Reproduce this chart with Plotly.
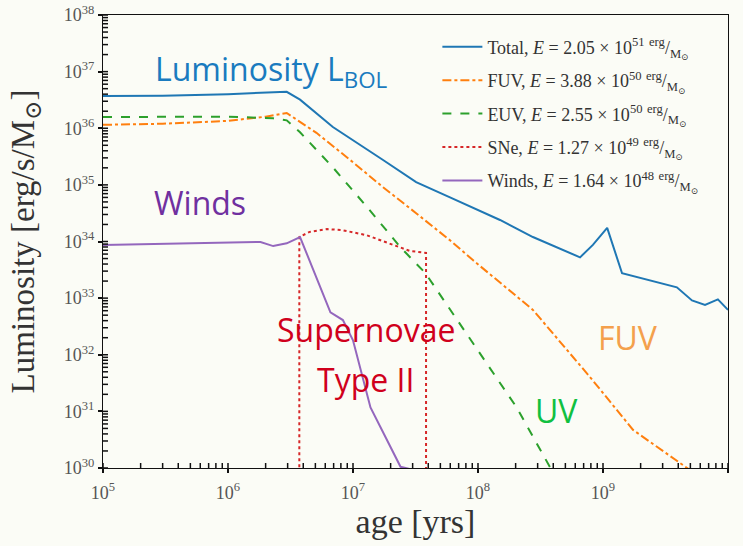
import math
import plotly.graph_objects as go

# ---------------- data ----------------
total_age = [1e5, 3e5, 1e6, 2.95e6, 3.77e6, 6.9e6, 1.74e7, 3.2e7, 5.97e7, 1.5e8, 2.75e8,
             5.15e8, 6.55e8, 8.3e8, 1.08e9, 1.42e9, 3.9e9, 5.15e9, 6.55e9, 8.3e9, 1e10]
total_L = [3.7e36, 3.75e36, 4.0e36, 4.4e36, 3.2e36, 1.05e36, 2.75e35, 1.12e35, 6.0e34, 2.4e34, 1.2e34,
           6.5e33, 5.25e33, 8.7e33, 1.74e34, 2.75e33, 1.55e33, 9.1e32, 7.6e32, 9.5e32, 6.2e32]

fuv_age = [1e5, 3e5, 1e6, 2e6, 2.95e6, 5.1e6, 9.5e6, 1.74e7, 3.2e7, 5.97e7, 9.1e7,
           2.75e8, 7.9e8, 1.74e9, 5.0e9]
fuv_L = [1.15e36, 1.2e36, 1.35e36, 1.6e36, 1.86e36, 8.3e35, 2.75e35, 9.1e34, 3.16e34, 1.05e34, 4.7e33,
         6.2e32, 4.0e31, 4.7e30, 9.1e29]

euv_age = [1e5, 1e6, 2.3e6, 2.95e6, 3.77e6, 6.9e6, 1.29e7, 2.4e7, 3.8e7, 9.1e7, 2.04e8, 3.8e8]
euv_L = [1.58e36, 1.6e36, 1.5e36, 1.38e36, 8.5e35, 2.04e35, 4.1e34, 7.9e33, 2.75e33, 1.58e32, 1.17e31, 1.0e30]

sne_age = [3.72e6, 3.72e6, 4.5e6, 6.2e6, 8.3e6, 1.29e7, 2.1e7, 2.86e7, 3.84e7, 3.84e7]
sne_L = [1e28, 1.2e34, 1.48e34, 1.66e34, 1.58e34, 1.29e34, 8.7e33, 6.8e33, 6.3e33, 1e28]

winds_age = [1e5, 6e5, 1.82e6, 2.3e6, 2.95e6, 3.77e6, 6.6e6, 8.3e6, 1e7, 1.38e7, 2.4e7, 2.9e7]
winds_L = [8.7e33, 9.3e33, 9.8e33, 8.3e33, 9.3e33, 1.2e34, 5.6e32, 4.1e32, 1.8e32, 1.17e31, 1.05e30, 9.5e29]

legend_names = [
    "Total, <i>E</i> = 2.05 × 10<sup>51</sup> <sup>erg</sup>/<sub>M<sub>⊙</sub></sub>",
    "FUV, <i>E</i> = 3.88 × 10<sup>50</sup> <sup>erg</sup>/<sub>M<sub>⊙</sub></sub>",
    "EUV, <i>E</i> = 2.55 × 10<sup>50</sup> <sup>erg</sup>/<sub>M<sub>⊙</sub></sub>",
    "SNe, <i>E</i> = 1.27 × 10<sup>49</sup> <sup>erg</sup>/<sub>M<sub>⊙</sub></sub>",
    "Winds, <i>E</i> = 1.64 × 10<sup>48</sup> <sup>erg</sup>/<sub>M<sub>⊙</sub></sub>",
]

x_exps = [5, 6, 7, 8, 9, 10]
y_exps = [30, 31, 32, 33, 34, 35, 36, 37, 38]
x_ticks = [10.0 ** e for e in x_exps]
y_ticks = [10.0 ** e for e in y_exps]
x_ticktext = [f"10<sup>{e}</sup>" for e in x_exps]
y_ticktext = [f"10<sup>{e}</sup>" for e in y_exps]

# ---------------- figure ----------------
BG = "#fbfcf6"
SERIF = "Liberation Serif, DejaVu Serif, serif"
SANS = "Open Sans, Lato, sans-serif"
AX = "#111"
XR = [5, 10]
YR = [30, 38]

fig = go.Figure()
series = [
    (total_age, total_L, "#1f77b4", "solid"),
    (fuv_age, fuv_L, "#ff7f0e", "dashdot"),
    (euv_age, euv_L, "#2ca02c", "dash"),
    (sne_age, sne_L, "#d62728", "dot"),
    (winds_age, winds_L, "#9467bd", "solid"),
]
for i, (xa, ya, col, dash) in enumerate(series):
    fig.add_trace(go.Scatter(
        x=xa, y=ya, mode="lines", name=legend_names[i], legendgroup=f"g{i}",
        line=dict(color=col, width=2, dash=dash),
    ))

# inward-pointing (minor + major) tick marks along the bottom and left edges of the plot area
minor_x = [float(m) * 10.0 ** e for e in range(XR[0], XR[1]) for m in range(1, 10)] + [10.0 ** XR[1]]
minor_y = [float(m) * 10.0 ** e for e in range(YR[0], YR[1]) for m in range(1, 10)] + [10.0 ** YR[1]]
tick_shapes = []
for v in minor_x:
    f = (math.log10(v) - XR[0]) / (XR[1] - XR[0])
    tick_shapes.append(dict(type="line", xref="paper", yref="paper", x0=f, x1=f,
                            ysizemode="pixel", yanchor=0, y0=0, y1=5,
                            line=dict(color=AX, width=1.5), layer="above"))
for v in minor_y:
    f = (math.log10(v) - YR[0]) / (YR[1] - YR[0])
    tick_shapes.append(dict(type="line", xref="paper", yref="paper", y0=f, y1=f,
                            xsizemode="pixel", xanchor=0, x0=0, x1=5,
                            line=dict(color=AX, width=1.5), layer="above"))

fig.update_layout(
    shapes=tick_shapes,
    xaxis=dict(
        type="log", range=XR, tickmode="array", tickvals=x_ticks, ticktext=x_ticktext,
        ticks="outside", ticklen=4, tickwidth=1.5, tickcolor=AX, showline=True, linecolor=AX,
        linewidth=1.3, mirror=True, showgrid=False, zeroline=False, automargin=False,
        ticklabelstandoff=4,
        tickfont=dict(family=SERIF, size=18, color="#555"),
        title=dict(text="age [yrs]", font=dict(family=SERIF, size=34, color="#333"), standoff=4),
    ),
    yaxis=dict(
        type="log", range=YR, tickmode="array", tickvals=y_ticks, ticktext=y_ticktext,
        ticks="outside", ticklen=4, tickwidth=1.5, tickcolor=AX, showline=True, linecolor=AX,
        linewidth=1.3, mirror=True, showgrid=False, zeroline=False, automargin=False,
        ticklabelstandoff=0,
        tickfont=dict(family=SERIF, size=18, color="#555"),
        title=dict(text="Luminosity [erg/s/M<sub>⊙</sub>]", font=dict(family=SERIF, size=33, color="#333"),
                   standoff=19),
    ),
)

annotations = [
    dict(text="Luminosity L<sub>BOL</sub>", x=0.27, y=0.877, color="#1a7bbf"),
    dict(text="Winds", x=0.155, y=0.585, color="#7030a0"),
    dict(text="Supernovae", x=0.42, y=0.305, color="#d0001c"),
    dict(text="Type II", x=0.42, y=0.195, color="#d0001c"),
    dict(text="UV", x=0.725, y=0.128, color="#10c040"),
    dict(text="FUV", x=0.84, y=0.288, color="#f4a04c"),
]
for a in annotations:
    fig.add_annotation(
        text=a["text"], x=a["x"], y=a["y"], xref="paper", yref="paper",
        showarrow=False, font=dict(family=SANS, size=32, color=a["color"]),
        xanchor="center", yanchor="middle",
    )

fig.update_layout(
    width=743, height=546,
    margin=dict(l=103, r=15, t=15, b=78),
    paper_bgcolor=BG, plot_bgcolor=BG,
    legend=dict(
        x=0.535, y=0.97, xanchor="left", yanchor="top", itemwidth=40,
        bgcolor="rgba(0,0,0,0)", borderwidth=0, tracegroupgap=7,
        font=dict(family=SERIF, size=18, color="#333"),
    ),
    showlegend=True,
)

fig.write_html("out.html")
